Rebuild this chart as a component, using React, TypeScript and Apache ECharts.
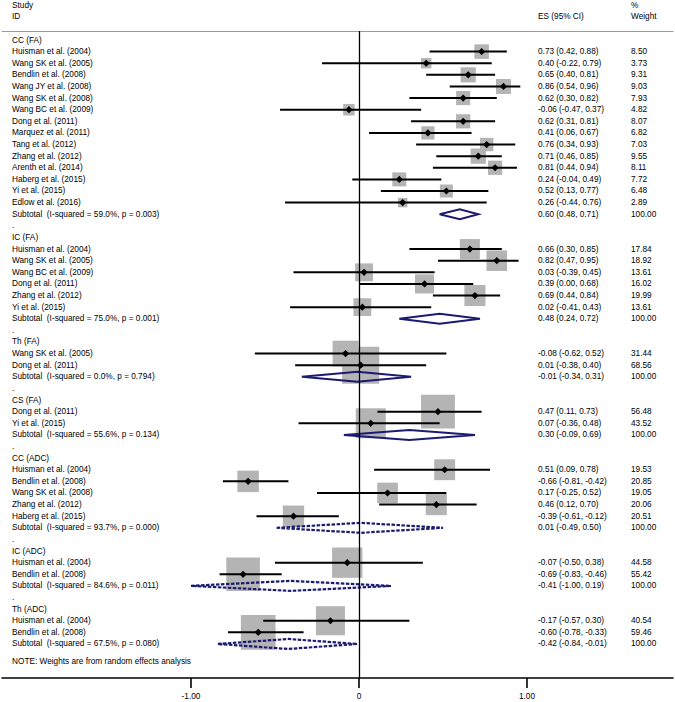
import { useEffect, useRef } from "react";
import * as echarts from "echarts";

type Study = [string, number, number, number, number];

const groupNames = ["CC (FA)", "IC (FA)", "Th (FA)", "CS (FA)", "CC (ADC)", "IC (ADC)", "Th (ADC)"];

const ccFA: Study[] = [
  ["Huisman et al. (2004)", 0.73, 0.42, 0.88, 8.5],
  ["Wang SK et al. (2005)", 0.4, -0.22, 0.79, 3.73],
  ["Bendlin et al. (2008)", 0.65, 0.4, 0.81, 9.31],
  ["Wang JY et al. (2008)", 0.86, 0.54, 0.96, 9.03],
  ["Wang SK et al. (2008)", 0.62, 0.3, 0.82, 7.93],
  ["Wang BC et al. (2009)", -0.06, -0.47, 0.37, 4.82],
  ["Dong et al. (2011)", 0.62, 0.31, 0.81, 8.07],
  ["Marquez et al. (2011)", 0.41, 0.06, 0.67, 6.82],
  ["Tang et al. (2012)", 0.76, 0.34, 0.93, 7.03],
  ["Zhang et al. (2012)", 0.71, 0.46, 0.85, 9.55],
  ["Arenth et al. (2014)", 0.81, 0.44, 0.94, 8.11],
  ["Haberg et al. (2015)", 0.24, -0.04, 0.49, 7.72],
  ["Yi et al. (2015)", 0.52, 0.13, 0.77, 6.48],
  ["Edlow et al. (2016)", 0.26, -0.44, 0.76, 2.89],
];
const icFA: Study[] = [
  ["Huisman et al. (2004)", 0.66, 0.3, 0.85, 17.84],
  ["Wang SK et al. (2005)", 0.82, 0.47, 0.95, 18.92],
  ["Wang BC et al. (2009)", 0.03, -0.39, 0.45, 13.61],
  ["Dong et al. (2011)", 0.39, 0.0, 0.68, 16.02],
  ["Zhang et al. (2012)", 0.69, 0.44, 0.84, 19.99],
  ["Yi et al. (2015)", 0.02, -0.41, 0.43, 13.61],
];
const thFA: Study[] = [
  ["Wang SK et al. (2005)", -0.08, -0.62, 0.52, 31.44],
  ["Dong et al. (2011)", 0.01, -0.38, 0.4, 68.56],
];
const csFA: Study[] = [
  ["Dong et al. (2011)", 0.47, 0.11, 0.73, 56.48],
  ["Yi et al. (2015)", 0.07, -0.36, 0.48, 43.52],
];
const ccADC: Study[] = [
  ["Huisman et al. (2004)", 0.51, 0.09, 0.78, 19.53],
  ["Bendlin et al. (2008)", -0.66, -0.81, -0.42, 20.85],
  ["Wang SK et al. (2008)", 0.17, -0.25, 0.52, 19.05],
  ["Zhang et al. (2012)", 0.46, 0.12, 0.7, 20.06],
  ["Haberg et al. (2015)", -0.39, -0.61, -0.12, 20.51],
];
const icADC: Study[] = [
  ["Huisman et al. (2004)", -0.07, -0.5, 0.38, 44.58],
  ["Bendlin et al. (2008)", -0.69, -0.83, -0.46, 55.42],
];
const thADC: Study[] = [
  ["Huisman et al. (2004)", -0.17, -0.57, 0.3, 40.54],
  ["Bendlin et al. (2008)", -0.6, -0.78, -0.33, 59.46],
];

const groupStudies = [ccFA, icFA, thFA, csFA, ccADC, icADC, thADC];
const subtotalES = [0.6, 0.48, -0.01, 0.3, 0.01, -0.41, -0.42];
const subtotalLo = [0.48, 0.24, -0.34, -0.09, -0.49, -1.0, -0.84];
const subtotalHi = [0.71, 0.72, 0.31, 0.69, 0.5, 0.19, -0.01];
const iSquared = ["59.0", "75.0", "0.0", "55.6", "93.7", "84.6", "67.5"];
const pValues = ["0.003", "0.001", "0.794", "0.134", "0.000", "0.011", "0.080"];
const dashedDiamond = [false, false, false, false, true, true, true];
const xTicks = [-1, 0, 1];
const noteText = "NOTE: Weights are from random effects analysis";

type Row = {
  kind: "group" | "study" | "subtotal" | "dot" | "note";
  idx: number;
  label: string;
  es?: number;
  lo?: number;
  hi?: number;
  wt?: number;
  dashed?: boolean;
};

const rows: Row[] = [];
let rc = 0;
groupNames.forEach((g, gi) => {
  if (gi > 0) rows.push({ kind: "dot", idx: rc++, label: "." });
  rows.push({ kind: "group", idx: rc++, label: g });
  groupStudies[gi].forEach((s) =>
    rows.push({ kind: "study", idx: rc++, label: s[0], es: s[1], lo: s[2], hi: s[3], wt: s[4] })
  );
  rows.push({
    kind: "subtotal",
    idx: rc++,
    label: `Subtotal \u00a0(I-squared = ${iSquared[gi]}%, p = ${pValues[gi]})`,
    es: subtotalES[gi],
    lo: subtotalLo[gi],
    hi: subtotalHi[gi],
    wt: 100,
    dashed: dashedDiamond[gi],
  });
});
rows.push({ kind: "note", idx: rc - 1 + 1.55, label: noteText });

const studyRows = rows.filter((r) => r.kind === "study");
const subRows = rows.filter((r) => r.kind === "subtotal");

const FONT = "'Liberation Sans', Arial, Helvetica, sans-serif";
const FS = 8.25;
const NAVY = "#1b1b72";
const f2 = (v: number) => v.toFixed(2);

export default function App() {
  const ref = useRef<HTMLDivElement>(null);
  useEffect(() => {
    if (!ref.current) return;
    const chart = echarts.init(ref.current, null, { renderer: "svg" });
    const txt = (text: string, x: number, y: number) => ({
      type: "text",
      x,
      y,
      style: { text, fill: "#000", fontSize: FS, fontFamily: FONT, align: "left", verticalAlign: "middle" },
    });
    const option: any = {
      animation: false,
      backgroundColor: "#fff",
      grid: { left: 2, right: 2, top: 31, bottom: 24, containLabel: false },
      xAxis: [
        {
          type: "value",
          min: -2.125,
          max: 1.869,
          position: "bottom",
          axisLine: { show: true, onZero: false, lineStyle: { color: "#000", width: 1.6 } },
          axisTick: { show: true, customValues: xTicks, length: 10, lineStyle: { color: "#000", width: 1.6 } },
          axisLabel: {
            show: true,
            customValues: xTicks,
            formatter: (v: number) => (v === 0 ? "0" : v.toFixed(2)),
            fontSize: FS,
            fontFamily: FONT,
            color: "#000",
            margin: 14,
          },
          splitLine: { show: false },
        },
        {
          type: "value",
          min: -2.125,
          max: 1.869,
          position: "top",
          axisLine: { show: true, onZero: false, lineStyle: { color: "#9a9a9a", width: 1 } },
          axisTick: { show: false },
          axisLabel: { show: false },
          splitLine: { show: false },
        },
      ],
      yAxis: { type: "value", inverse: true, min: -0.775, max: 54.93, show: false },
      graphic: [
        txt("Study", 12, 5),
        txt("ID", 12, 16),
        txt("ES (95% CI)", 538, 16),
        txt("%", 631, 5),
        txt("Weight", 631, 16),
      ],
      series: [
        {
          type: "custom",
          z: 1,
          data: [],
          renderItem: () => null,
          markLine: {
            silent: true,
            symbol: ["none", "none"],
            label: { show: false },
            lineStyle: { color: "#000", width: 1.3, type: "solid" },
            data: [{ xAxis: 0 }],
          },
        },
        {
          type: "custom",
          z: 2,
          clip: false,
          data: studyRows.map((r) => [r.es, r.idx, r.wt]),
          renderItem: (_p: any, api: any) => {
            const c = api.coord([api.value(0), api.value(1)]);
            const s = 4.2 * Math.sqrt(api.value(2)) + 2.3;
            return {
              type: "rect",
              shape: { x: c[0] - s / 2, y: c[1] - s / 2, width: s, height: s },
              style: { fill: "#b4b4b4" },
            };
          },
        },
        {
          type: "custom",
          z: 3,
          clip: false,
          data: studyRows.map((r) => [r.es, r.idx, r.lo, r.hi]),
          renderItem: (_p: any, api: any) => {
            const c = api.coord([api.value(0), api.value(1)]);
            const a = api.coord([api.value(2), api.value(1)]);
            const b = api.coord([api.value(3), api.value(1)]);
            const m = 3.6;
            return {
              type: "group",
              children: [
                {
                  type: "line",
                  shape: { x1: a[0], y1: a[1], x2: b[0], y2: b[1] },
                  style: { stroke: "#000", lineWidth: 2 },
                },
                {
                  type: "polygon",
                  shape: {
                    points: [
                      [c[0] - m, c[1]],
                      [c[0], c[1] - m],
                      [c[0] + m, c[1]],
                      [c[0], c[1] + m],
                    ],
                  },
                  style: { fill: "#000" },
                },
              ],
            };
          },
        },
        {
          type: "custom",
          z: 4,
          clip: false,
          data: subRows.map((r) => [r.es, r.idx, r.lo, r.hi, r.dashed ? 1 : 0]),
          renderItem: (_p: any, api: any) => {
            const c = api.coord([api.value(0), api.value(1)]);
            const a = api.coord([api.value(2), api.value(1)]);
            const b = api.coord([api.value(3), api.value(1)]);
            const h = 5;
            const dashed = api.value(4) === 1;
            return {
              type: "polygon",
              shape: {
                points: [
                  [a[0], a[1]],
                  [c[0], c[1] - h],
                  [b[0], b[1]],
                  [c[0], c[1] + h],
                ],
              },
              style: {
                fill: "none",
                stroke: NAVY,
                lineWidth: dashed ? 2.2 : 2,
                lineDash: dashed ? [3.5, 1.5] : null,
              },
            };
          },
        },
        {
          type: "custom",
          z: 5,
          clip: false,
          data: rows.map((r) => [0, r.idx]),
          renderItem: (p: any, api: any) => {
            const r = rows[p.dataIndex];
            const y = api.coord([0, r.idx])[1];
            const children: any[] = [txt(r.label, 12, y)];
            if (r.kind === "study" || r.kind === "subtotal") {
              children.push(txt(`${f2(r.es!)} (${f2(r.lo!)}, ${f2(r.hi!)})`, 538, y));
              children.push(txt(f2(r.wt!), 631, y));
            }
            return { type: "group", children };
          },
        },
      ],
    };
    chart.setOption(option);
    return () => chart.dispose();
  }, []);
  return (
    <div
      ref={ref}
      style={{ position: "fixed", left: 0, top: 0, width: 675, height: 702, background: "#fff" }}
    />
  );
}
